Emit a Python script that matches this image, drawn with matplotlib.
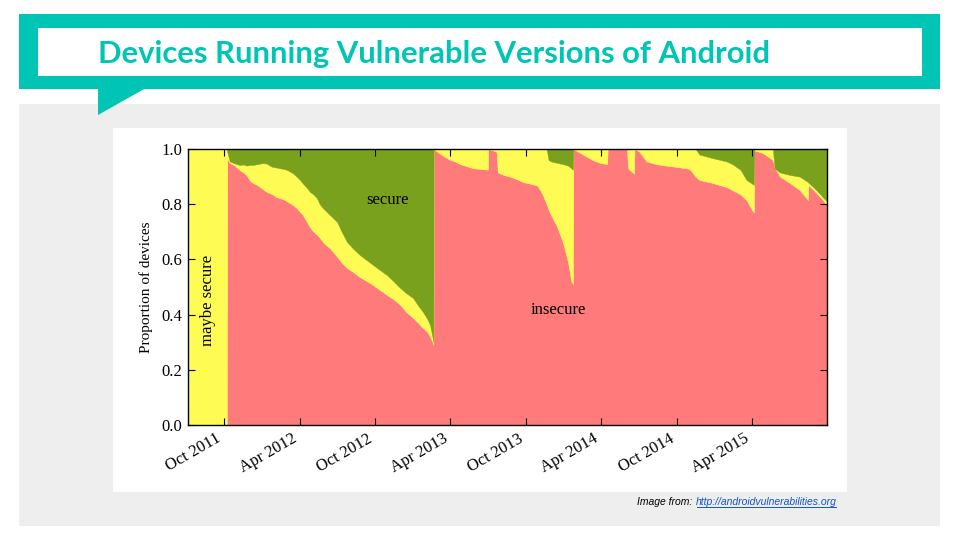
import matplotlib
matplotlib.use("Agg")
import matplotlib.pyplot as plt
from matplotlib.patches import Rectangle, Polygon
from matplotlib import font_manager as fm
import numpy as np
import pandas as pd

# ---------------- data ----------------
dates = [
    "2011-07-06", "2011-10-08", "2011-10-09", "2011-10-15", "2011-10-27", "2011-11-08",
    "2011-11-17", "2011-11-25", "2011-12-03", "2011-12-10", "2011-12-20", "2012-01-03",
    "2012-01-13", "2012-01-20", "2012-01-27", "2012-02-05", "2012-02-14", "2012-02-22",
    "2012-03-02", "2012-03-16", "2012-03-26", "2012-04-02", "2012-04-09", "2012-04-19",
    "2012-04-26", "2012-05-05", "2012-05-13", "2012-05-20", "2012-05-28", "2012-06-06",
    "2012-06-14", "2012-06-21", "2012-07-01", "2012-07-12", "2012-07-25", "2012-08-08",
    "2012-08-25", "2012-09-10", "2012-09-26", "2012-10-12", "2012-10-30", "2012-11-15",
    "2012-12-01", "2012-12-15", "2013-01-01", "2013-01-12", "2013-01-25", "2013-02-04",
    "2013-02-11", "2013-02-18", "2013-02-19",
    # segment 2
    "2013-02-20", "2013-03-05", "2013-03-15", "2013-04-01", "2013-04-12", "2013-04-25",
    "2013-05-10", "2013-05-27", "2013-06-12", "2013-07-01", "2013-07-02", "2013-07-22",
    "2013-07-25", "2013-08-10", "2013-08-23", "2013-09-10", "2013-09-24", "2013-10-10",
    "2013-10-28", "2013-11-05", "2013-11-12", "2013-11-20", "2013-11-25", "2013-12-01",
    "2013-12-15", "2013-12-30", "2014-01-11", "2014-01-19", "2014-01-23",
    # segment 3
    "2014-01-24", "2014-02-16", "2014-03-12", "2014-03-29", "2014-04-16", "2014-04-17",
    "2014-06-03", "2014-06-05", "2014-06-20", "2014-06-21", "2014-07-03", "2014-07-20",
    "2014-08-13", "2014-09-05", "2014-10-01", "2014-11-01", "2014-11-16", "2014-11-25",
    "2014-12-27", "2015-01-30", "2015-02-13", "2015-03-05", "2015-03-19", "2015-04-01",
    "2015-04-06",
    # segment 4
    "2015-04-07", "2015-04-28", "2015-05-22", "2015-05-26", "2015-06-08", "2015-07-02",
    "2015-07-26", "2015-08-15", "2015-08-16", "2015-09-05", "2015-09-20", "2015-09-30",
]

insecure = [
    0.0, 0.0, 0.965, 0.95, 0.94, 0.924,
    0.915, 0.905, 0.885, 0.877, 0.87, 0.855,
    0.844, 0.84, 0.835, 0.826, 0.822, 0.818,
    0.81, 0.797, 0.785, 0.772, 0.761, 0.735,
    0.717, 0.70, 0.69, 0.678, 0.662, 0.65,
    0.64, 0.627, 0.61, 0.588, 0.569, 0.555,
    0.536, 0.522, 0.507, 0.49, 0.471, 0.455,
    0.435, 0.41, 0.388, 0.372, 0.351, 0.338,
    0.32, 0.297, 0.29,
    1.0, 0.985, 0.975, 0.96, 0.955, 0.945,
    0.938, 0.93, 0.928, 0.925, 1.0, 0.99,
    0.915, 0.905, 0.90, 0.89, 0.88, 0.875,
    0.868, 0.85, 0.83, 0.80, 0.78, 0.76,
    0.72, 0.66, 0.59, 0.52, 0.51,
    1.0, 0.98, 0.96, 0.95, 0.945, 1.0,
    1.0, 0.93, 0.91, 1.0, 0.99, 0.955,
    0.945, 0.94, 0.935, 0.928, 0.90, 0.888,
    0.877, 0.862, 0.851, 0.835, 0.815, 0.78,
    0.77,
    0.995, 0.985, 0.96, 0.935, 0.90, 0.877,
    0.851, 0.815, 0.87, 0.84, 0.815, 0.797,
]

# top of the "maybe secure" band (insecure + maybe secure)
not_secure = [
    1.0, 1.0, 0.99, 0.955, 0.948, 0.942,
    0.944, 0.94, 0.942, 0.942, 0.945, 0.949,
    0.947, 0.94, 0.935, 0.933, 0.93, 0.928,
    0.924, 0.912, 0.899, 0.888, 0.875, 0.859,
    0.845, 0.835, 0.822, 0.80, 0.785, 0.772,
    0.76, 0.75, 0.736, 0.70, 0.663, 0.64,
    0.616, 0.598, 0.58, 0.562, 0.543, 0.52,
    0.496, 0.478, 0.46, 0.435, 0.409, 0.385,
    0.362, 0.31, 0.30,
    1.0, 1.0, 1.0, 1.0, 1.0, 1.0,
    1.0, 1.0, 1.0, 1.0, 1.0, 1.0,
    1.0, 1.0, 1.0, 1.0, 1.0, 1.0,
    1.0, 1.0, 1.0, 1.0, 0.96, 0.955,
    0.95, 0.945, 0.94, 0.93, 0.925,
    1.0, 1.0, 1.0, 1.0, 1.0, 1.0,
    1.0, 1.0, 1.0, 1.0, 1.0, 1.0,
    1.0, 1.0, 1.0, 1.0, 1.0, 0.98,
    0.967, 0.955, 0.945, 0.924, 0.888, 0.875,
    0.87,
    1.0, 1.0, 1.0, 0.93, 0.915, 0.906,
    0.90, 0.88, 0.878, 0.85, 0.825, 0.81,
]

tick_dates = ["2011-10-01", "2012-04-01", "2012-10-01", "2013-04-01",
              "2013-10-01", "2014-04-01", "2014-10-01", "2015-04-01"]
tick_labels = ["Oct 2011", "Apr 2012", "Oct 2012", "Apr 2013",
               "Oct 2013", "Apr 2014", "Oct 2014", "Apr 2015"]
y_ticks = [0.0, 0.2, 0.4, 0.6, 0.8, 1.0]

# ---------------- derived series ----------------
x = pd.to_datetime(dates)
ins = np.array(insecure)
top = np.array(not_secure)
maybe = top - ins
secure = 1.0 - top

TEAL = "#00C5B5"
PINK = "#FF7A7A"
YELLOW = "#FFFB55"
GREEN = "#7AA11E"

names = {f.name for f in fm.fontManager.ttflist}
title_font = "Liberation Sans Narrow" if "Liberation Sans Narrow" in names else "Lato"

fig = plt.figure(figsize=(9.6, 5.4), dpi=100)
fig.patch.set_facecolor("white")

# ---------------- slide background ----------------
bg = fig.add_axes([0, 0, 1, 1], zorder=0)
bg.set_xlim(0, 960)
bg.set_ylim(540, 0)
bg.axis("off")
bg.add_patch(Rectangle((19, 104), 921, 422, facecolor="#EEEEEE", edgecolor="none"))
bg.add_patch(Rectangle((19, 14), 921, 75, facecolor=TEAL, edgecolor="none"))
bg.add_patch(Polygon([(98, 88), (146, 88), (98, 115)], closed=True,
                     facecolor=TEAL, edgecolor="none"))
bg.add_patch(Rectangle((38, 28), 884, 48, facecolor="white", edgecolor="none"))
bg.add_patch(Rectangle((113, 128), 734, 364, facecolor="white", edgecolor="none"))

title = bg.text(98, 63, "Devices Running Vulnerable Versions of Android",
                fontsize=21, fontweight="bold", color=TEAL, family=title_font,
                ha="left", va="baseline")
fig.canvas.draw()
r = fig.canvas.get_renderer()
w = title.get_window_extent(r).width
title.set_fontsize(21 * 672.0 / w)

# credit line
link = bg.text(837, 505, "http://androidvulnerabilities.org", fontsize=7.5,
               style="italic", color="#1155CC", family="Liberation Sans",
               ha="right", va="baseline")
fig.canvas.draw()
bb = link.get_window_extent(r)
lx0 = bb.x0
bg.plot([lx0 + 1, 836], [507, 507], color="#1155CC", lw=0.7)
bg.text(lx0 - 1, 505, "Image from: ", fontsize=7.5, style="italic", color="black",
        family="Liberation Sans", ha="right", va="baseline")

# ---------------- chart ----------------
ax = fig.add_axes([188 / 960, 1 - 425 / 540, 639 / 960, 276 / 540], zorder=2)
ax.stackplot(x, ins, maybe, secure, colors=[PINK, YELLOW, GREEN],
             linewidth=0.3, edgecolor="face")
ax.set_xlim(pd.Timestamp("2011-07-06"), pd.Timestamp("2015-09-30"))
ax.set_ylim(0, 1)

serif = "Liberation Serif"
ax.set_xticks(pd.to_datetime(tick_dates))
ax.set_xticklabels(tick_labels, rotation=30, ha="right", fontsize=12, family=serif)
ax.set_yticks(y_ticks)
ax.set_yticklabels([f"{v:.1f}" for v in y_ticks], fontsize=12, family=serif)
ax.tick_params(direction="in", top=True, right=True, length=5, width=0.8, pad=4)
ax.set_ylabel("Proportion of devices", fontsize=11, family=serif, labelpad=6)
for s in ax.spines.values():
    s.set_linewidth(1.0)
    s.set_color("black")

ax.text(pd.Timestamp("2012-11-01"), 0.815, "secure", fontsize=12, family=serif,
        ha="center", va="center")
ax.text(pd.Timestamp("2013-12-18"), 0.417, "insecure", fontsize=12, family=serif,
        ha="center", va="center")
ax.text(pd.Timestamp("2011-08-23"), 0.453, "maybe secure", fontsize=12, family=serif,
        rotation=90, ha="center", va="center")

fig.savefig("out.png", dpi=100, facecolor="white")
